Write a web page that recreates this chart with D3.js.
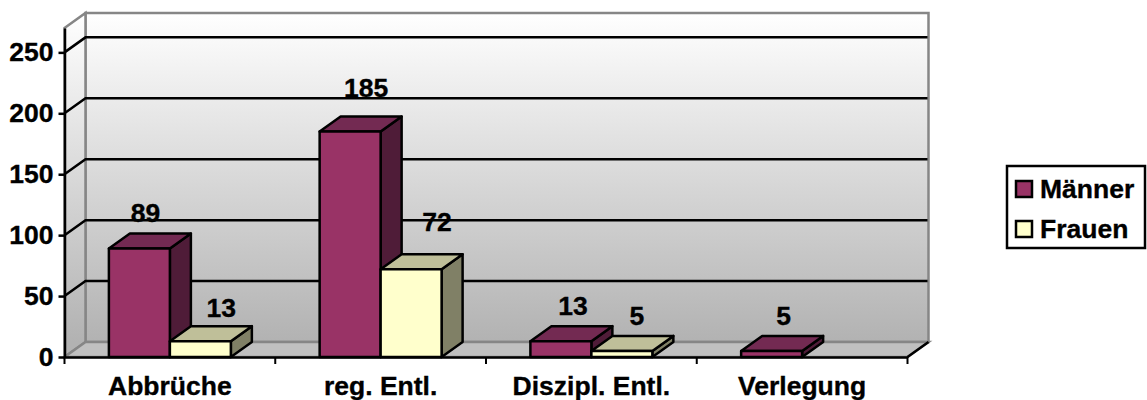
<html>
<head>
  <meta charset="utf-8">
  <script src="https://d3js.org/d3.v7.min.js"></script>
  <style>
    body {
      background-color: white;
      margin: 0;
      padding: 0;
      overflow: hidden;
    }

    svg {
      display: block;
    }

    text {
      font-family: "Liberation Sans", Arial, sans-serif;
      font-weight: bold;
      font-size: 26.5px;
      fill: black;
      stroke: black;
      stroke-width: 0.35px;
    }
  </style>
</head>
<body>
  <svg width="1147" height="400"></svg>

  <script>
    const categories = ["Abbrüche", "reg. Entl.", "Diszipl. Entl.", "Verlegung"];
    const seriesNames = ["Männer", "Frauen"];
    const maenner = [89, 185, 13, 5];
    const frauen = [13, 72, 5, null];
    const yTicks = [0, 50, 100, 150, 200, 250];

    // Excel had these data labels dragged around by hand, [dx, dy] from the bar's centre/top
    const labelShift = [
      [[6, -27], [21, -24]],
      [[16, -35], [26, -38]],
      [[12, -26], [15, -26]],
      [[12, -26], [0, 0]]
    ];

    const seriesColors = [
      { front: "#993366", top: "#732a52", side: "#4f1c38" },
      { front: "#ffffcc", top: "#bfbf99", side: "#808066" }
    ];

    const svg = d3.select("svg");
    const left = 64.5, right = 907.5, floorY = 357, topY = 28;
    const depthX = 21, depthY = -15; // 3d offset of the back wall

    const x = d3.scaleBand().domain(categories).range([left, right]).paddingInner(0).paddingOuter(0);
    const y = d3.scaleLinear().domain([0, 270]).range([floorY, topY]);
    const xSeries = d3.scaleBand().domain(seriesNames).range([0, x.bandwidth()]).paddingOuter(0.728).paddingInner(0).align(0.5);

    const poly = pts => "M" + pts.map(p => p.join(",")).join("L") + "Z";

    // Wall gradient
    const grad = svg.append("defs").append("linearGradient")
        .attr("id", "wall")
        .attr("gradientUnits", "userSpaceOnUse")
        .attr("x1", 0).attr("x2", 0)
        .attr("y1", topY + depthY).attr("y2", floorY + depthY);
    grad.append("stop").attr("offset", 0).attr("stop-color", "#ffffff");
    grad.append("stop").attr("offset", 1).attr("stop-color", "#b2b2b2");

    // Back wall
    svg.append("rect")
        .attr("x", left + depthX)
        .attr("y", topY + depthY)
        .attr("width", right - left)
        .attr("height", floorY - topY)
        .attr("fill", "url(#wall)")
        .attr("stroke", "#868686")
        .attr("stroke-width", 2.5);

    // Side wall
    svg.append("path")
        .attr("d", poly([[left, topY], [left + depthX, topY + depthY], [left + depthX, floorY + depthY], [left, floorY]]))
        .attr("fill", "url(#wall)")
        .attr("stroke", "#868686")
        .attr("stroke-width", 2.5);

    // Floor
    svg.append("path")
        .attr("d", poly([[left, floorY], [left + depthX, floorY + depthY], [right + depthX, floorY + depthY], [right, floorY]]))
        .attr("fill", "#c0c0c0")
        .attr("stroke", "#868686")
        .attr("stroke-width", 2.5);

    svg.append("line")
        .attr("x1", right).attr("y1", floorY)
        .attr("x2", right + depthX).attr("y2", floorY + depthY)
        .attr("stroke", "black")
        .attr("stroke-width", 2.5);

    // Grid lines, running over the side wall and the back wall
    svg.selectAll(".grid")
      .data(yTicks.filter(d => d > 0))
      .enter().append("path")
        .attr("class", "grid")
        .attr("fill", "none")
        .attr("stroke", "black")
        .attr("stroke-width", 2.5)
        .attr("d", d => "M" + left + "," + y(d) + "L" + (left + depthX) + "," + (y(d) + depthY) + "L" + (right + depthX - 1) + "," + (y(d) + depthY));

    // Y axis
    const yAxis = d3.axisLeft(y).tickValues(yTicks).tickSize(6).tickPadding(5).tickSizeOuter(0);
    const yG = svg.append("g").attr("transform", "translate(" + left + ",0)").call(yAxis);
    yG.attr("font-family", null).attr("font-size", null);
    yG.selectAll("path, line").attr("stroke", "black").attr("stroke-width", 2.5);

    // X axis, labels only; the tick marks sit between the categories
    const xAxis = d3.axisBottom(x).tickSize(0).tickPadding(19);
    const xG = svg.append("g").attr("transform", "translate(0," + floorY + ")").call(xAxis);
    xG.attr("font-family", null).attr("font-size", null);
    xG.select("path").attr("stroke", "black").attr("stroke-width", 2.5);

    svg.selectAll(".xtick")
      .data(d3.range(categories.length + 1))
      .enter().append("line")
        .attr("class", "xtick")
        .attr("x1", i => left + i * x.step())
        .attr("x2", i => left + i * x.step())
        .attr("y1", floorY)
        .attr("y2", floorY + 7)
        .attr("stroke", "black")
        .attr("stroke-width", 2);

    // Bars
    const bars = [];
    categories.forEach((c, ci) => {
      [maenner, frauen].forEach((values, si) => {
        if (values[ci] !== null) bars.push({ c: c, ci: ci, si: si, value: values[ci] });
      });
    });

    const barG = svg.selectAll(".bar")
      .data(bars)
      .enter().append("g")
        .attr("class", "bar")
        .attr("stroke", "black")
        .attr("stroke-width", 2.5)
        .attr("stroke-linejoin", "round");

    const bx0 = d => x(d.c) + xSeries(seriesNames[d.si]);
    const bx1 = d => bx0(d) + xSeries.bandwidth();

    barG.append("path")
        .attr("fill", d => seriesColors[d.si].side)
        .attr("d", d => poly([[bx1(d), y(d.value)], [bx1(d) + depthX, y(d.value) + depthY], [bx1(d) + depthX, floorY + depthY], [bx1(d), floorY]]));

    barG.append("path")
        .attr("fill", d => seriesColors[d.si].top)
        .attr("d", d => poly([[bx0(d), y(d.value)], [bx0(d) + depthX, y(d.value) + depthY], [bx1(d) + depthX, y(d.value) + depthY], [bx1(d), y(d.value)]]));

    barG.append("rect")
        .attr("fill", d => seriesColors[d.si].front)
        .attr("x", bx0)
        .attr("y", d => y(d.value))
        .attr("width", xSeries.bandwidth())
        .attr("height", d => floorY - y(d.value));

    // Data labels
    svg.selectAll(".label")
      .data(bars)
      .enter().append("text")
        .attr("class", "label")
        .attr("text-anchor", "middle")
        .attr("x", d => bx0(d) + xSeries.bandwidth() / 2 + labelShift[d.ci][d.si][0])
        .attr("y", d => y(d.value) + labelShift[d.ci][d.si][1])
        .text(d => d.value);

    // Legend
    const legend = svg.append("g");
    legend.append("rect")
        .attr("x", 1007).attr("y", 166)
        .attr("width", 138).attr("height", 82)
        .attr("fill", "white")
        .attr("stroke", "black")
        .attr("stroke-width", 2.5);

    const legendRow = d3.scalePoint().domain(seriesNames).range([198, 238]);

    legend.selectAll(".swatch")
      .data(seriesNames)
      .enter().append("rect")
        .attr("class", "swatch")
        .attr("x", 1016)
        .attr("y", d => legendRow(d) - 17)
        .attr("width", 16)
        .attr("height", 16)
        .attr("fill", (d, i) => seriesColors[i].front)
        .attr("stroke", "black")
        .attr("stroke-width", 2.5);

    legend.selectAll(".legend-label")
      .data(seriesNames)
      .enter().append("text")
        .attr("class", "legend-label")
        .attr("x", 1040)
        .attr("y", d => legendRow(d))
        .text(d => d);
  </script>
</body>
</html>
